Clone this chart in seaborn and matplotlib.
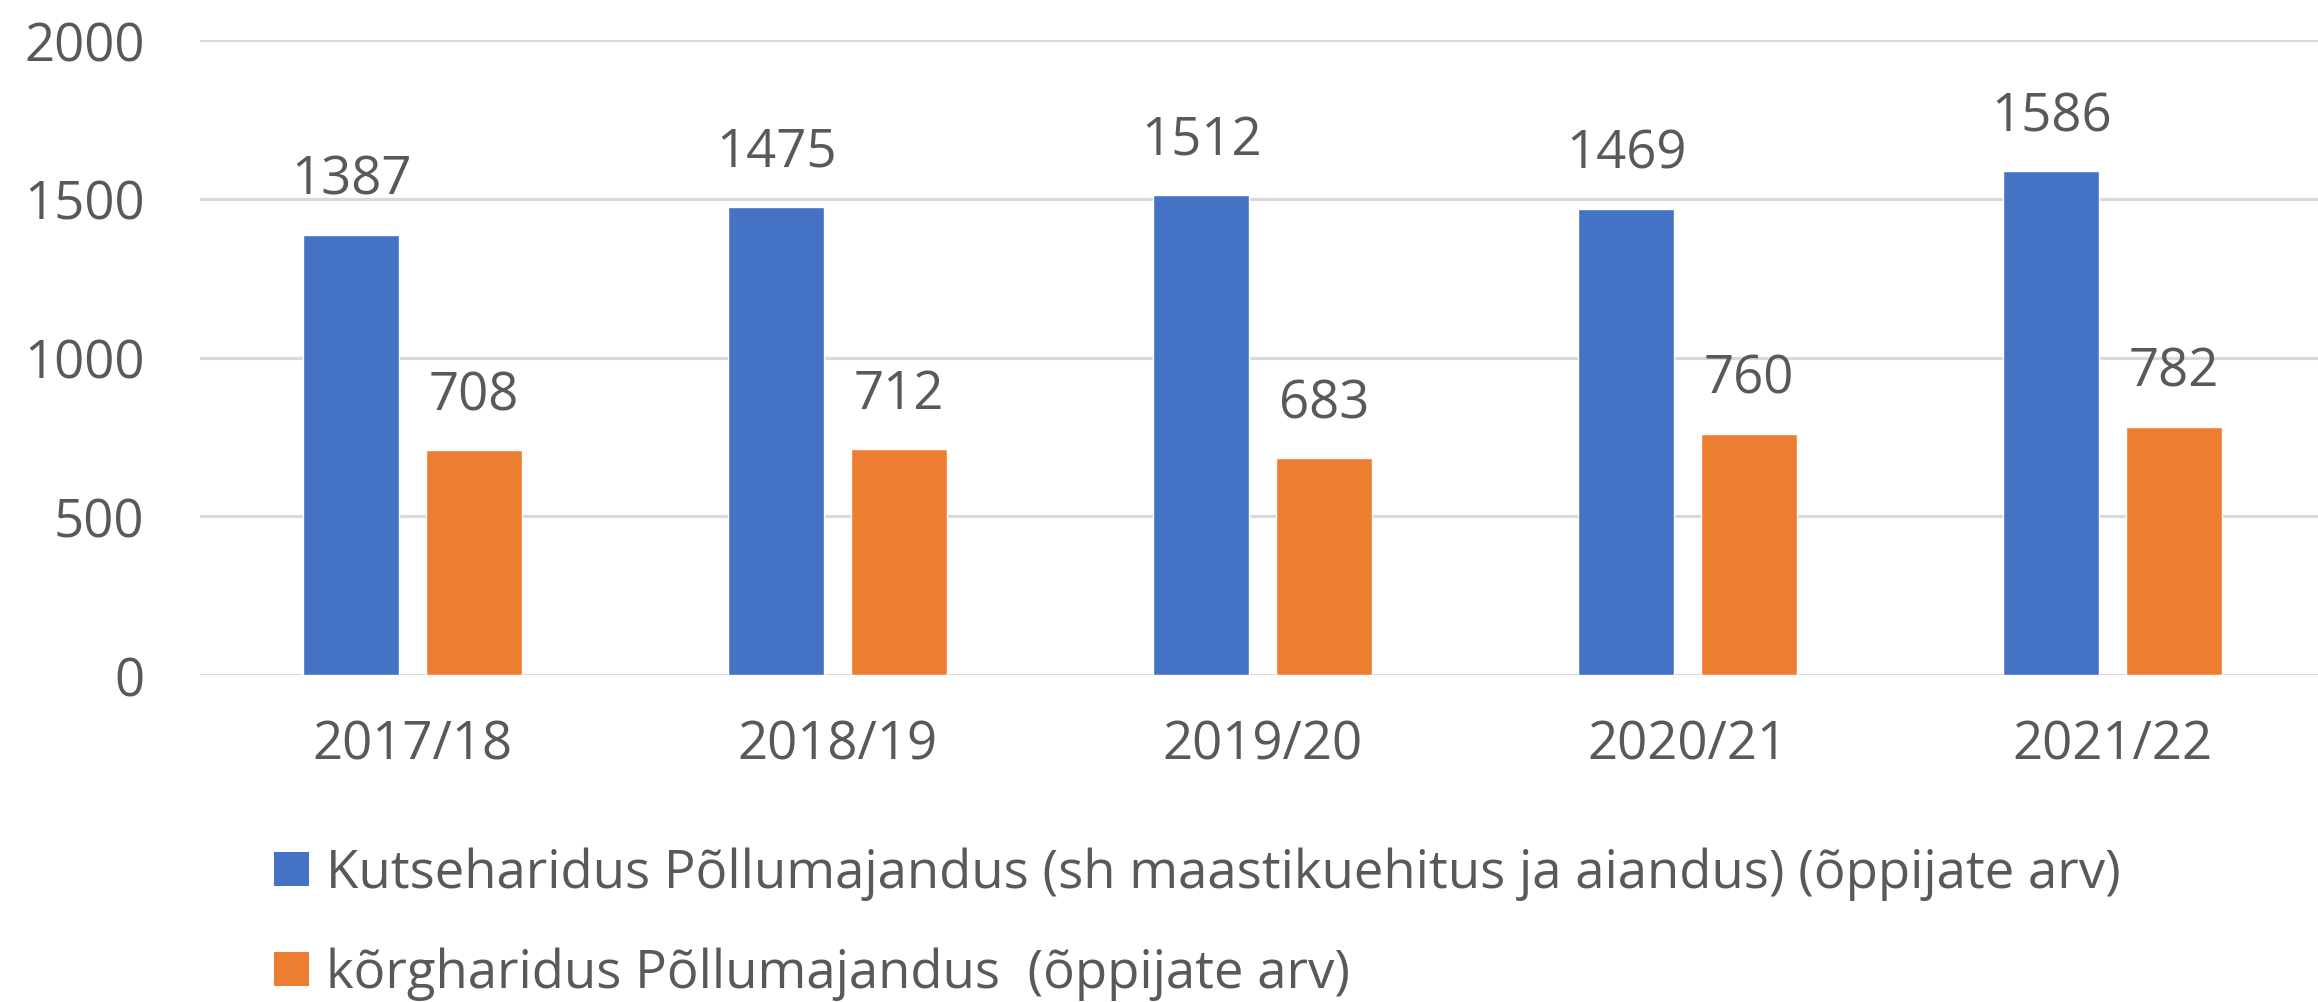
import matplotlib
matplotlib.use("Agg")
import matplotlib.pyplot as plt
import matplotlib.patches as mpatches
import seaborn as sns
import pandas as pd

years = ["2017/18", "2018/19", "2019/20", "2020/21", "2021/22"]
series_names = [
    "Kutseharidus Põllumajandus (sh maastikuehitus ja aiandus) (õppijate arv)",
    "kõrgharidus Põllumajandus  (õppijate arv)",
]
kutse = [1387, 1475, 1512, 1469, 1586]
korg = [708, 712, 683, 760, 782]
colors = ["#4472C4", "#ED7D31"]
yticks = [0, 500, 1000, 1500, 2000]

df = pd.DataFrame({
    "year": years * 2,
    "value": kutse + korg,
    "series": [series_names[0]] * len(years) + [series_names[1]] * len(years),
})

sns.set_theme(style="white")
plt.rcParams["font.family"] = ["Open Sans", "DejaVu Sans"]
text_color = "#595959"
grid_color = "#D9D9D9"
fs = 38

fig = plt.figure(figsize=(23.18, 10.03), dpi=100)
ax = fig.add_axes([200 / 2318, 1 - 676 / 1003, 2125 / 2318, (676 - 41) / 1003])

sns.barplot(data=df, x="year", y="value", hue="series", palette=colors,
            width=0.578, gap=0.22, ax=ax, legend=False, saturation=1)

ax.set_ylim(0, 2000)
ax.set_xlim(-0.5, len(years) - 0.5)
ax.set_yticks(yticks)
ax.set_yticklabels([str(t) for t in yticks])
ax.set_xlabel("")
ax.set_ylabel("")
for s in ax.spines.values():
    s.set_visible(False)
ax.yaxis.grid(True, color=grid_color, linewidth=2.3)
ax.set_axisbelow(True)
ax.tick_params(axis="y", length=0, pad=40, labelsize=fs, labelcolor=text_color)
ax.tick_params(axis="x", length=0, pad=31, labelsize=fs, labelcolor=text_color)

for cont in ax.containers:
    ax.bar_label(cont, padding=20, fontsize=fs, color=text_color, clip_on=False)

handles = [mpatches.Patch(facecolor=c, edgecolor="none") for c in colors]
fig.legend(handles, series_names, loc="upper left",
           bbox_to_anchor=(274 / 2318, 1 - 848 / 1003), frameon=False,
           fontsize=fs, labelcolor=text_color, handlelength=0.66, handleheight=0.63,
           handletextpad=0.32, labelspacing=0.88, borderaxespad=0, borderpad=0)

fig.savefig("out.png", dpi=100)
